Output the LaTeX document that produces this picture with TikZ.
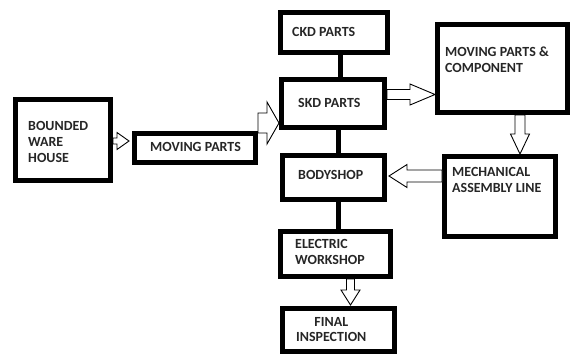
\documentclass[tikz,border=0pt]{standalone}
\usepackage{fontspec}
\setmainfont{Carlito}
\usetikzlibrary{calc}
\newcommand\blockarrow[5]{%
  \coordinate (ba-h) at ($(#2)!#5!(#1)$);
  \draw[hollow] ($(#1)!#3!90:(#2)$) -- ($(ba-h)!#3!90:(#2)$) -- ($(ba-h)!#4!90:(#2)$) -- (#2)
     -- ($(ba-h)!#4!-90:(#2)$) -- ($(ba-h)!#3!-90:(#2)$) -- ($(#1)!#3!-90:(#2)$) -- cycle;}
\begin{document}
\begin{tikzpicture}[x=1bp,y=-1bp,
  box/.style={draw=black, line width=5bp, fill=white, inner sep=0pt},
  lbl/.style={anchor=west, align=left, inner sep=0pt, font=\bfseries\fontsize{14}{16}\selectfont, text=black!85},
  link/.style={draw=black, line width=5bp},
  hollow/.style={draw=black, line width=0.9bp, fill=white, line join=miter}]
\useasboundingbox[fill=white] (0,0) rectangle (573,354);
\begin{scope}
\clip (0,0) rectangle (573,354);
% boxes
\node[box, minimum width=95bp,  minimum height=81bp] (bw)  at (63,140) {};
\node[box, minimum width=121bp, minimum height=29bp] (mp)  at (195,148) {};
\node[box, minimum width=107bp, minimum height=40bp] (ckd) at (334,32.5) {};
\node[box, minimum width=103bp, minimum height=48bp] (skd) at (333,103.5) {};
\node[box, minimum width=102bp, minimum height=44bp] (bs)  at (333.5,177.5) {};
\node[box, minimum width=110bp, minimum height=45bp] (ew)  at (335.5,254) {};
\node[box, minimum width=112bp, minimum height=43bp] (fi)  at (338.5,330) {};
\node[box, minimum width=130bp, minimum height=88bp] (mpc) at (502.5,68.5) {};
\node[box, minimum width=111bp, minimum height=80bp] (mal) at (500,196.5) {};
% plain connectors
\coordinate (c1) at ($(ckd.south)+(6,0)$);
\draw[link] (c1) -- (c1 |- skd.north);
\coordinate (c2) at ($(skd.south)+(5,0)$);
\draw[link] (c2) -- (c2 |- bs.north);
\coordinate (c3) at ($(bs.south)+(4.5,0)$);
\draw[link] (c3) -- (c3 |- ew.north);
% hollow block arrows
\coordinate (a1s) at ($(bw.east)+(0,1)$);
\coordinate (a1e) at ($(a1s -| mp.west)+(-3,0)$);
\blockarrow{a1s}{a1e}{3bp}{8.5bp}{12bp}
\coordinate (a2s) at ($(mp.north east)+(0,-8)$);
\coordinate (a2e) at (a2s -| skd.west);
\blockarrow{a2s}{a2e}{10bp}{21bp}{12bp}
\coordinate (a3s) at ($(skd.east)+(0,-9)$);
\coordinate (a3e) at (a3s -| mpc.west);
\blockarrow{a3s}{a3e}{5bp}{10.5bp}{25bp}
\coordinate (a4s) at ($(mpc.south)+(17.5,0)$);
\coordinate (a4e) at (a4s |- mal.north);
\blockarrow{a4s}{a4e}{5bp}{9.5bp}{20bp}
\coordinate (a5s) at ($(mal.west)+(0,-20.5)$);
\coordinate (a5e) at ($(a5s -| bs.east)+(2,0)$);
\blockarrow{a5s}{a5e}{6bp}{11.5bp}{18bp}
\coordinate (a6s) at ($(ew.south)+(15,0)$);
\coordinate (a6e) at ($(a6s |- fi.north)+(0,-1)$);
\blockarrow{a6s}{a6e}{4bp}{9.5bp}{15bp}
% texts
\node[lbl] (tbw)  at (28,142)  {BOUNDED\\WARE\\HOUSE};
\node[lbl] (tmp)  at (150,147) {MOVING PARTS};
\node[lbl] (tckd) at (292,32)  {CKD PARTS};
\node[lbl] (tskd) at (298,103) {SKD PARTS};
\node[lbl] (tmpc) at (445,60)  {MOVING PARTS \&\\COMPONENT};
\node[lbl] (tbs)  at (298,175) {BODYSHOP};
\node[lbl] (tmal) at (452,179.5) {MECHANICAL\\ASSEMBLY LINE};
\node[lbl] (tew)  at (295,252) {ELECTRIC\\WORKSHOP};
\node[lbl, align=center] (tfi) at (296,329.5) {FINAL\\INSPECTION};
\end{scope}
\end{tikzpicture}
\end{document}
